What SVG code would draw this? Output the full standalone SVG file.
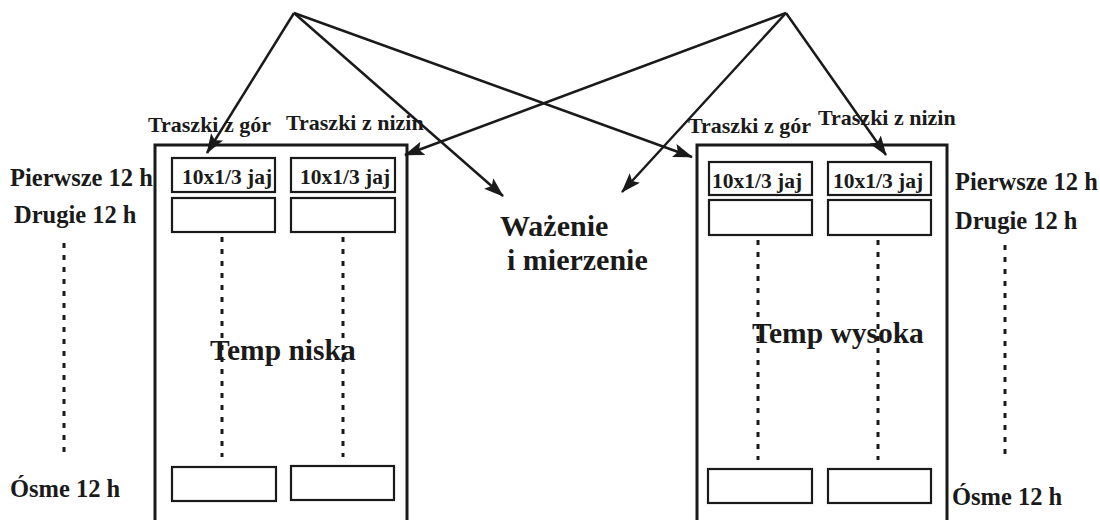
<svg xmlns="http://www.w3.org/2000/svg" width="1100" height="520" viewBox="0 0 1100 520">
  <style>
    text { font-family: "Liberation Serif", "Times New Roman", serif; font-weight: bold; fill: #1a1a1a; }
    .lbl { font-size: 22px; }
    .cell { font-size: 21.5px; }
    .hour { font-size: 24.5px; }
    .mid { font-size: 30px; }
    .temp { font-size: 29.5px; }
    .chamber { fill: none; stroke: #1a1a1a; stroke-width: 3; }
    .slot { fill: #fff; stroke: #1a1a1a; stroke-width: 2.2; }
    .dots { fill: none; stroke: #1a1a1a; stroke-width: 3; stroke-dasharray: 5 7; }
    .arrow { fill: none; stroke: #1a1a1a; stroke-width: 2.5; marker-end: url(#head); }
  </style>
  <defs>
    <marker id="head" markerUnits="userSpaceOnUse" viewBox="0 0 20 14" markerWidth="20" markerHeight="14" refX="19" refY="7" orient="auto">
      <path d="M0,0 L20,7 L0,14 L4,7 Z" fill="#1a1a1a"/>
    </marker>
  </defs>
  <rect width="1100" height="520" fill="#fff"/>

  <!-- low temperature chamber -->
  <g id="chamber-low">
    <rect class="chamber" x="155" y="145" width="252" height="390"/>
    <rect class="slot" x="172" y="158" width="103" height="34"/>
    <rect class="slot" x="291" y="158" width="104" height="34"/>
    <rect class="slot" x="172" y="198" width="103" height="34"/>
    <rect class="slot" x="291" y="198" width="104" height="34"/>
    <rect class="slot" x="172" y="467" width="104" height="34"/>
    <rect class="slot" x="291" y="466" width="103" height="34"/>
    <line class="dots" x1="222" y1="237" x2="222" y2="457"/>
    <line class="dots" x1="343" y1="237" x2="343" y2="457"/>
    <text class="cell" x="182" y="184">10x1/3 jaj</text>
    <text class="cell" x="300" y="184">10x1/3 jaj</text>
    <text class="temp" x="210" y="360">Temp niska</text>
    <text class="lbl" x="148" y="132">Traszki z gór</text>
    <text class="lbl" x="286" y="130">Traszki z nizin</text>
  </g>

  <!-- high temperature chamber -->
  <g id="chamber-high">
    <rect class="chamber" x="697" y="145" width="250" height="390"/>
    <rect class="slot" x="709" y="162" width="103" height="33"/>
    <rect class="slot" x="828" y="162" width="103" height="33"/>
    <rect class="slot" x="709" y="200" width="103" height="35"/>
    <rect class="slot" x="828" y="200" width="103" height="35"/>
    <rect class="slot" x="708" y="469" width="104" height="34"/>
    <rect class="slot" x="828" y="469" width="103" height="34"/>
    <line class="dots" x1="758" y1="240" x2="758" y2="460"/>
    <line class="dots" x1="878" y1="240" x2="878" y2="460"/>
    <text class="cell" x="712" y="188">10x1/3 jaj</text>
    <text class="cell" x="833" y="188">10x1/3 jaj</text>
    <text class="temp" x="752" y="343">Temp wysoka</text>
    <text class="lbl" x="688" y="133">Traszki z gór</text>
    <text class="lbl" x="818" y="125">Traszki z nizin</text>
  </g>

  <!-- time scale, left side -->
  <g id="hours-left">
    <text class="hour" x="10" y="186">Pierwsze 12 h</text>
    <text class="hour" x="14" y="223">Drugie 12 h</text>
    <line class="dots" x1="64" y1="243" x2="64" y2="455"/>
    <text class="hour" x="10" y="497">Ósme 12 h</text>
  </g>

  <!-- time scale, right side -->
  <g id="hours-right">
    <text class="hour" x="955" y="190">Pierwsze 12 h</text>
    <text class="hour" x="955" y="229">Drugie 12 h</text>
    <line class="dots" x1="1005" y1="245" x2="1005" y2="455"/>
    <text class="hour" x="952" y="505">Ósme 12 h</text>
  </g>

  <!-- measurement step -->
  <g id="weighing">
    <text class="mid" x="500" y="236">Ważenie</text>
    <text class="mid" x="507" y="270">i mierzenie</text>
  </g>

  <!-- transfer arrows from both sources -->
  <g id="connectors">
    <line class="arrow" x1="294" y1="13" x2="207" y2="153"/>
    <line class="arrow" x1="294" y1="13" x2="503" y2="196"/>
    <line class="arrow" x1="294" y1="13" x2="692" y2="157"/>
    <line class="arrow" x1="786" y1="13" x2="405" y2="155"/>
    <line class="arrow" x1="786" y1="13" x2="622" y2="192"/>
    <line class="arrow" x1="786" y1="13" x2="886" y2="155"/>
  </g>
</svg>
